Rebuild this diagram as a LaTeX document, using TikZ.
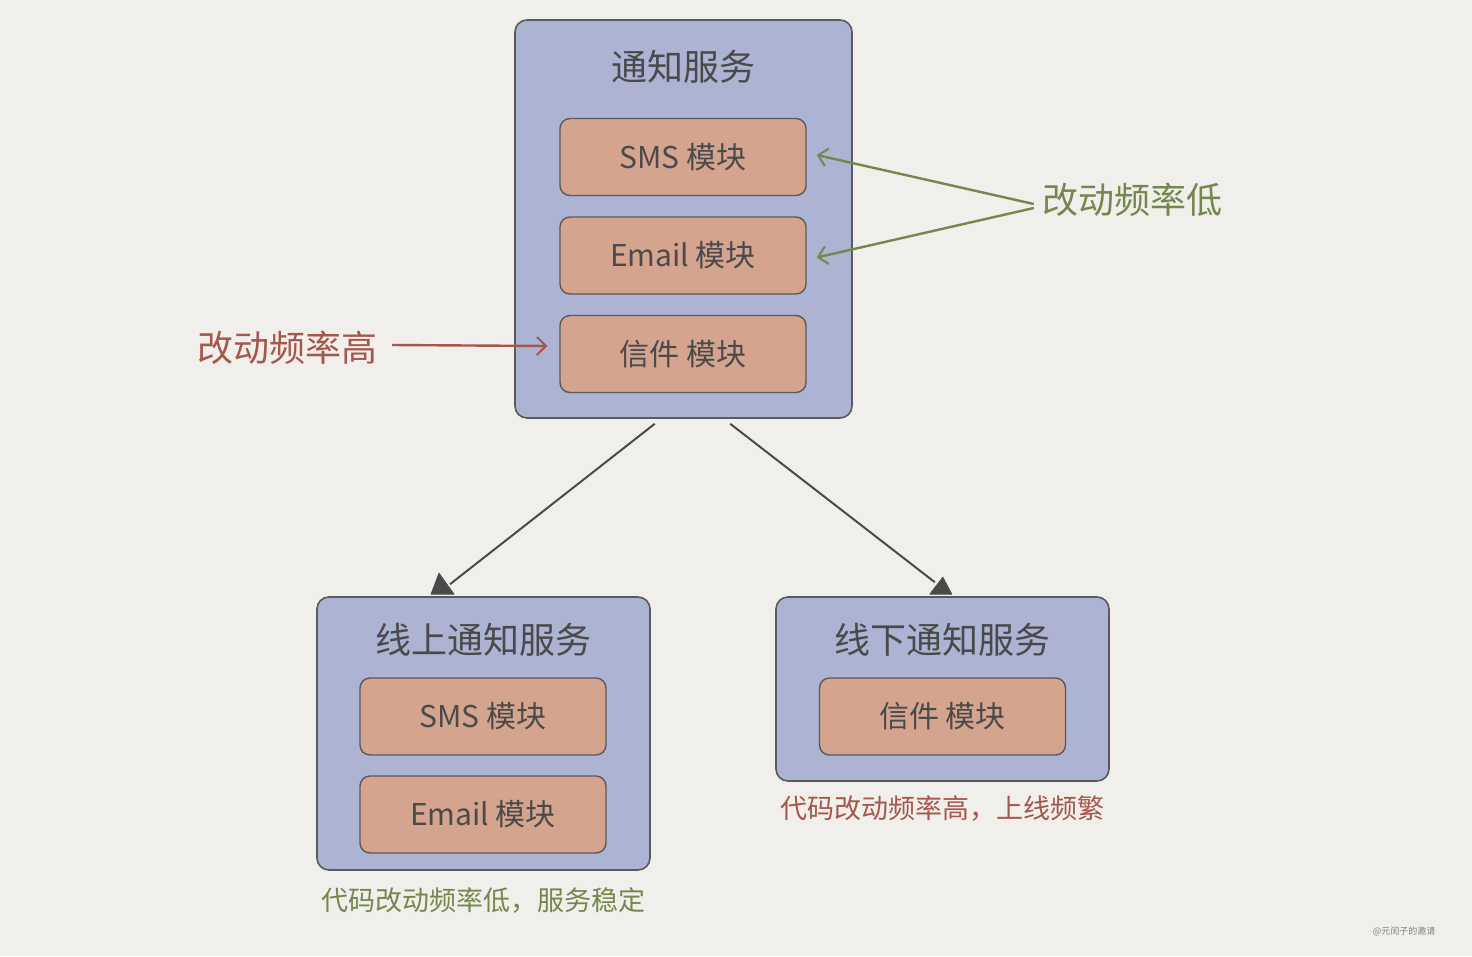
\documentclass[tikz,border=0pt]{standalone}
\usepackage{fontspec}
\newfontfamily\cjk{Noto Sans CJK SC}
\usetikzlibrary{arrows.meta,calc}
\definecolor{paper}{HTML}{F0EFEB}
\definecolor{outerfill}{HTML}{ACB3D3}
\definecolor{innerfill}{HTML}{D4A48F}
\definecolor{edgegrey}{HTML}{5A5A5A}
\definecolor{ink}{HTML}{4A4A4A}
\definecolor{lowgreen}{HTML}{75874C}
\definecolor{highred}{HTML}{A5574B}
\begin{document}
\begin{tikzpicture}[x=1pt,y=-1pt,
  outerbox/.style={draw=edgegrey, line width=1.6pt, fill=outerfill, rounded corners=12pt, inner sep=0pt},
  innerbox/.style={draw=edgegrey, line width=1.4pt, fill=innerfill, rounded corners=10pt, inner sep=0pt,
    minimum width=246pt, minimum height=77pt, text=ink, font=\cjk\fontsize{30}{34}\selectfont},
  titletext/.style={text=ink, font=\cjk\fontsize{36}{40}\selectfont, inner sep=0pt},
  greentext/.style={text=lowgreen, inner sep=0pt},
  redtext/.style={text=highred, inner sep=0pt},
  greenarrow/.style={draw=lowgreen, line width=2.4pt, -{Straight Barb[length=9pt,width=18pt,line width=2pt]}},
  redarrow/.style={draw=highred, line width=2.4pt, -{Straight Barb[length=9pt,width=18pt,line width=2pt]}},
  linkline/.style={draw=ink, line width=2pt},
  linkhead/.style={fill=ink, draw=ink, line width=0.8pt, line join=round}
]
\useasboundingbox[fill=paper] (0,0) rectangle (1472,956);

% top service
\node[outerbox, minimum width=337pt, minimum height=398pt] (top) at (683.5,219) {};
\node[titletext] (toptitle) at (683,67) {通知服务};
\node[innerbox] (tsms) at (683,157) {SMS 模块};
\node[innerbox] (temail) at (683,255.5) {Email 模块};
\node[innerbox] (tletter) at (683,354) {信件 模块};

% annotations
\node[greentext, font=\cjk\fontsize{36}{40}\selectfont] (low) at (1132,200) {改动频率低};
\node[redtext, font=\cjk\fontsize{36}{40}\selectfont] (high) at (287,348) {改动频率高};
\draw[greenarrow] ($(low.west)+(-8,4)$) -- ($(tsms.east)+(10,-2)$);
\draw[greenarrow] ($(low.west)+(-8,8)$) -- ($(temail.east)+(10,2)$);
\draw[redarrow] ($(high.east)+(15,-3)$) -- ($(tletter.west)+(-12,-8)$);

% bottom left
\node[outerbox, minimum width=333pt, minimum height=273pt] (online) at (483.5,733.5) {};
\node[titletext] (ontitle) at (483,640) {线上通知服务};
\node[innerbox] (osms) at (483,716.5) {SMS 模块};
\node[innerbox] (oemail) at (483,814.5) {Email 模块};
\node[greentext, font=\cjk\fontsize{27}{30}\selectfont] (oncap) at (483,900) {代码改动频率低，服务稳定};

% bottom right
\node[outerbox, minimum width=333pt, minimum height=184pt] (offline) at (942.5,689) {};
\node[titletext] (offtitle) at (942,640) {线下通知服务};
\node[innerbox] (oletter) at (942.5,716.5) {信件 模块};
\node[redtext, font=\cjk\fontsize{27}{30}\selectfont] (offcap) at (942,808) {代码改动频率高，上线频繁};

% links
\coordinate (lstart) at ($(top.south west)!0.415!(top.south east)+(0,5)$);
\coordinate (rstart) at ($(top.south west)!0.638!(top.south east)+(0,5)$);
\coordinate (lend) at ($(online.north west)!0.376!(online.north east)+(0,-2)$);
\coordinate (rend) at ($(offline.north west)!0.495!(offline.north east)+(0,-2)$);
\draw[linkline] (lstart) -- ($(lend)+(8,-10)$);
\draw[linkline] (rstart) -- ($(rend)+(-6,-12)$);
\fill[linkhead] ($(lend)+(-11,0)$) -- ($(lend)+(-3,-21)$) -- ($(lend)+(12,0)$) -- cycle;
\fill[linkhead] ($(rend)+(-11,0)$) -- ($(rend)+(2,-17)$) -- ($(rend)+(11,0)$) -- cycle;

% watermark
\node[text=ink!70, font=\cjk\fontsize{9}{10}\selectfont, inner sep=0pt] (mark) at (1404,931) {@元闰子的邀请};
\end{tikzpicture}
\end{document}
